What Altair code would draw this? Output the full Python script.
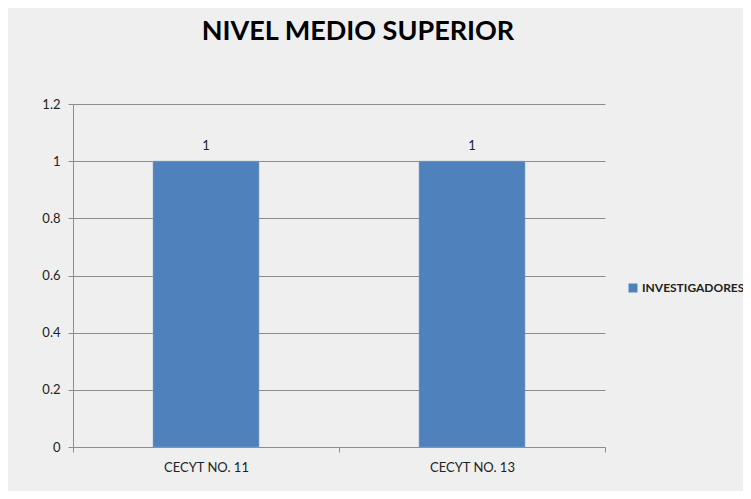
import altair as alt
import pandas as pd

categories = ["CECYT NO. 11", "CECYT NO. 13"]
values = [1, 1]
series = ["INVESTIGADORES", "INVESTIGADORES"]

df = pd.DataFrame({"escuela": categories, "valor": values, "serie": series})

FONT = "Lato"

base = alt.Chart(df)

bars = base.mark_bar(size=106, stroke="#8aa6cc", strokeWidth=0.5).encode(
    x=alt.X("escuela:N", title=None, sort=categories,
            scale=alt.Scale(paddingInner=0, paddingOuter=0),
            axis=alt.Axis(labelAngle=0, tickBand="extent", labelFont=FONT,
                          labelFontSize=13, labelColor="#222", labelPadding=9,
                          domainColor="#8c8c8c", tickColor="#8c8c8c", tickSize=5,
                          grid=False)),
    y=alt.Y("valor:Q", title=None, scale=alt.Scale(domain=[0, 1.2]),
            axis=alt.Axis(values=[0, 0.2, 0.4, 0.6, 0.8, 1, 1.2], format="~g",
                          labelFont=FONT, labelFontSize=13, labelColor="#222",
                          labelPadding=8, domainColor="#8c8c8c",
                          tickColor="#8c8c8c", tickSize=5, gridColor="#8c8c8c",
                          gridWidth=1)),
    color=alt.Color("serie:N", title=None,
                    scale=alt.Scale(range=["#4f81bd"]),
                    legend=alt.Legend(orient="none", legendX=554, legendY=178,
                                      symbolType="square", symbolSize=80,
                                      symbolStrokeWidth=0, labelFont=FONT,
                                      labelFontSize=12, labelFontWeight="bold",
                                      labelColor="#222", labelLimit=200,
                                      labelOffset=3)),
)

labels = base.mark_text(dy=-15, font=FONT, fontSize=13, color="#222").encode(
    x=alt.X("escuela:N", sort=categories),
    y="valor:Q",
    text="valor:Q",
)

chart = (bars + labels).properties(
    width=532,
    height=343,
    background="#efefef",
    padding={"left": 65, "top": 96, "right": 138, "bottom": 44},
    autosize=alt.AutoSizeParams(type="none"),
    title=alt.TitleParams("NIVEL MEDIO SUPERIOR", font=FONT, fontSize=27,
                          fontWeight="bold", color="#000", anchor="middle",
                          dx=19, offset=52),
).configure_view(stroke=None)

chart.save("out.html", embed_options={"renderer": "svg", "actions": False})
